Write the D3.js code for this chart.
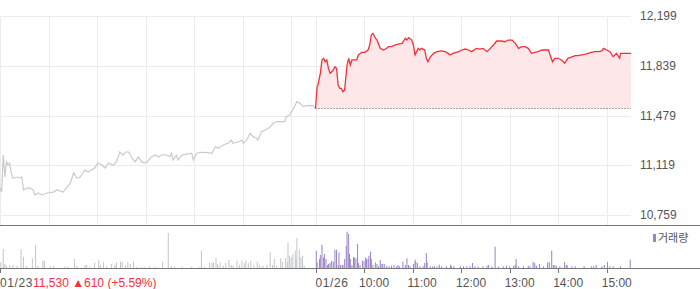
<!DOCTYPE html>
<html>
<head>
<meta charset="utf-8">
<script src="https://cdn.jsdelivr.net/npm/d3@7"></script>
<style>
  body { margin: 0; background: #fff; }
  svg { display: block; font-family: "Liberation Sans", Arial, sans-serif; }
</style>
</head>
<body>
<div class="chart"></div>
<script>
// minutes after 09:00 open, each session 390 minutes long
const dayLabels = ["01/23", "01/26"];
const prevClose = 11530;
const summaryText = ["11,530", "\u25B2610 (+5.59%)"];
const priceTicks = [10759, 11119, 11479, 11839, 12199];
const hourLabels = ["10:00", "11:00", "12:00", "13:00", "14:00", "15:00"];

const day1Min = [0, 2, 4, 6, 8, 10, 12, 14, 16, 21, 25, 27, 29, 33, 37, 41, 43, 47, 52, 58, 66, 70, 78, 82, 87, 91, 95, 99,
  105, 109, 113, 117, 121, 126, 130, 134, 140, 144, 148, 152, 155, 159, 163, 167, 171, 175, 179, 183, 187, 192, 196,
  200, 206, 210, 212, 214, 218, 220, 225, 231, 237, 239, 243, 249, 257, 262, 266, 270, 274, 278, 282, 286, 288, 295,
  299, 301, 305, 309, 313, 317, 319, 323, 328, 332, 338, 342, 348, 352, 354, 358, 363, 367, 371, 375, 379, 387, 390];
const day1Price = [10954, 10925, 11193, 11034, 11143, 11121, 11135, 11063, 11027, 11034, 11027, 11034, 10940, 10954,
  10954, 10940, 10904, 10918, 10904, 10918, 10925, 10940, 10925, 10954, 10991, 11063, 11027, 11034,
  11085, 11070, 11085, 11099, 11135, 11121, 11099, 11135, 11121, 11143, 11215, 11193, 11215, 11215, 11172, 11143,
  11179, 11143, 11135, 11150, 11179, 11193, 11179,
  11193, 11193, 11181, 11206, 11157, 11193, 11157, 11193, 11200, 11206, 11157, 11206, 11213, 11210, 11206, 11253,
  11242, 11258, 11271, 11278, 11302, 11278, 11289,
  11302, 11278, 11302, 11350, 11326, 11314, 11302, 11362, 11374, 11386, 11423, 11434, 11434, 11434, 11470, 11483,
  11531, 11579, 11567, 11543, 11550, 11550, 11530];

const day2Min = [0, 2, 3, 6, 8, 10, 12, 14, 16, 18, 20, 22, 24, 26, 28, 30, 32, 34, 36, 39, 41, 43, 45, 47, 51, 53, 57,
  61, 65, 67, 69, 71, 74, 76, 80, 84, 88, 90, 94, 98, 102, 107, 111, 113, 115, 119, 121, 123, 125, 127, 129, 131,
  135, 137, 139, 142, 146, 150, 156, 160, 164, 166, 170, 177, 181, 185, 189, 193, 199, 203, 207, 212, 216, 220, 224,
  230, 234, 238, 243, 247, 251, 255, 259, 263, 267, 271, 275, 280, 288, 290, 293, 296, 300, 304, 308, 312, 317, 321,
  325, 329, 333, 337, 341, 345, 350, 354, 356, 360, 364, 368, 372, 376, 377, 383, 390];
const day2Price = [11530, 11687, 11700, 11784, 11881, 11893, 11868, 11881, 11821, 11784, 11796, 11808, 11832, 11821,
  11700, 11676, 11676, 11651, 11664, 11844, 11893, 11844, 11881, 11881, 11881, 11917, 11936,
  11936, 11953, 11989, 12062, 12074, 12038, 12025, 11965, 11953, 11965, 11977, 11977, 11989, 11996, 12001, 12038,
  12025, 12042, 12025, 11989, 11917, 11941, 11965, 11953, 11965,
  11953, 11893, 11868, 11904, 11929, 11941, 11946, 11941, 11929, 11917, 11929, 11941, 11953, 11960, 11953, 11941,
  11965, 11960, 11965, 11941, 11965, 11989, 12018,
  12018, 12013, 12025, 12025, 12001, 11965, 11977, 11977, 11965, 11929, 11936, 11941, 11953, 11953, 11917, 11868,
  11893, 11893, 11881, 11857, 11893, 11904, 11912,
  11912, 11917, 11922, 11929, 11936, 11941, 11941, 11946, 11965, 11953, 11941, 11904, 11929, 11893, 11929, 11929,
  11929];

const day1VolMin = [1, 4, 6, 8, 12, 16, 21, 26, 29, 33, 40, 44, 47, 53, 55, 62, 66, 80, 84, 92, 95, 105, 107, 111, 117,
  122, 124, 128, 132, 138, 142, 144, 149, 151, 155, 158, 161, 165, 169, 175, 179, 185, 192, 201, 208, 212, 216, 225,
  237, 247, 249, 253, 259, 262, 264, 267, 269, 272, 276, 279, 283, 286, 288, 293, 296, 299, 302, 304, 307, 310, 314,
  318, 321, 325, 330, 334, 337, 339, 342, 347, 349, 353, 355, 356, 358, 360, 362, 365, 366, 367, 370, 372, 374, 376];
const day1Vol = [5700, 19000, 4000, 2300, 3000, 3000, 2300, 19000, 11300, 1700, 9700, 23300, 2300, 7300, 7300, 1700,
  2300, 1300, 1700, 9000, 2300, 3000, 3000, 1700, 5000,
  8300, 3000, 5700, 1700, 4000, 3000, 5700, 6300, 6300, 3000, 5700, 4000, 6300, 1000, 1000, 1000, 1700, 1000, 6300,
  35000, 1700, 1700, 1300,
  1300, 1000, 17300, 1000, 5000, 5000, 5700, 10300, 4000, 5700, 2300, 5000, 8300, 3000, 2300, 7300, 3000, 7300, 5000,
  7300, 5000, 7300, 3000,
  6300, 3000, 2300, 3000, 15700, 3000, 9000, 2300, 9700, 6300, 10000, 5700, 25700, 12300, 10700, 14000, 17300, 9000,
  30000, 18300, 10700, 12300, 2300];

const day2VolMin = [1, 2, 5, 6, 8, 10, 11, 13, 15, 16, 18, 20, 22, 24, 26, 28, 29, 31, 33, 34, 36, 38, 39, 41, 42, 43,
  45, 47, 48, 50, 52, 53, 55, 58, 60, 62, 63, 65, 66, 68, 69, 71, 74, 76, 78, 80, 81, 83, 85, 88, 91, 94, 97, 100,
  102, 104, 108, 111, 113, 115, 117, 121, 123, 124, 126, 129, 133, 135, 137, 138, 142, 145, 147, 150, 153, 156, 162,
  167, 168, 171, 179, 183, 187, 191, 194, 197, 201, 207, 212, 214, 218, 222, 226, 232, 236, 240, 245, 247, 248, 251,
  257, 263, 265, 269, 271, 273, 277, 282, 287, 289, 292, 294, 296, 298, 302, 308, 310, 311, 317, 321, 332, 341, 344,
  347, 354, 357, 361, 364, 368, 377, 389];
const day2Vol = [17300, 5700, 9000, 13000, 23300, 10700, 14000, 9000, 3000, 4000, 5000, 7300, 6300, 18300, 18300, 3000,
  15700, 3000, 3000, 3000, 9000, 22300, 36300, 34000, 14000, 9000,
  3000, 10700, 10700, 9700, 24000, 5000, 3000, 7300, 7300, 10700, 9000, 9000, 12300, 16300, 9000, 3000, 5700, 4000,
  1700, 8000, 4000, 4000, 4000, 2300, 1700, 2300, 3000, 1700,
  3000, 1700, 6300, 3000, 9700, 3000, 1700, 4000, 8300, 6300, 5000, 1700, 1700, 5000, 15000, 5700, 1700, 1700, 1700,
  1700, 3300, 1700, 1700,
  3300, 1700, 1700, 1700, 1700, 1700, 1700, 5000, 1700, 1700, 1700, 2300, 3000, 1700, 21300, 1700, 1700, 2300, 1700,
  2300, 3000, 9000, 1700,
  1700, 2300, 1700, 6300, 5000, 2300, 4000, 1700, 5700, 5700, 17300, 3000, 3000, 1700, 1700, 6300, 3000, 3000, 1700,
  1700, 1700, 1700, 1700,
  3000, 1700, 3000, 6300, 1700, 1700, 1700, 8300];

const dims = { width: 700, height: 289, plotW: 631 };

const svg = d3.select(".chart").append("svg")
  .attr("width", dims.width)
  .attr("height", dims.height);

const x = d3.scaleLinear().domain([0, 780]).range([0, dims.plotW]);
const y = d3.scaleLinear().domain([10759, 12199]).range([215, 16]);
const yVol = d3.scaleLinear().domain([0, 42000]).range([268, 226]);

const day1 = day1Min.map((m, i) => ({ t: m, v: day1Price[i] }));
const day2 = day2Min.map((m, i) => ({ t: m + 390, v: day2Price[i] }));

// grid
const gridX = d3.range(0, 781, 30).filter(m => m % 390 === 0 || (m % 390) % 60 === 0);
const grid = svg.append("g").attr("class", "grid");
grid.selectAll("line.h").data(priceTicks).enter().append("line")
  .attr("x1", 0).attr("x2", dims.plotW)
  .attr("y1", d => Math.round(y(d)) + 0.5).attr("y2", d => Math.round(y(d)) + 0.5)
  .attr("stroke", "#ebebeb");
grid.selectAll("line.v").data(gridX.filter(m => m < 780)).enter().append("line")
  .attr("x1", d => Math.round(x(d)) + 0.5).attr("x2", d => Math.round(x(d)) + 0.5)
  .attr("y1", 16).attr("y2", 225)
  .attr("stroke", "#ebebeb");

// y labels
svg.append("g").selectAll("text").data(priceTicks).enter().append("text")
  .attr("x", 640).attr("y", d => y(d) + 4)
  .attr("font-size", 12).attr("fill", "#555")
  .text(d => d3.format(",")(d));

// day 2 area + line
const area = d3.area().x(d => x(d.t)).y0(y(prevClose)).y1(d => y(d.v));
const line = d3.line().x(d => x(d.t)).y(d => y(d.v));

svg.append("path").datum(day2).attr("d", area).attr("fill", "#fde4e6").attr("opacity", 0.9);

svg.append("line")
  .attr("x1", x(390)).attr("x2", x(780))
  .attr("y1", Math.round(y(prevClose)) + 0.5).attr("y2", Math.round(y(prevClose)) + 0.5)
  .attr("stroke", "#555").attr("stroke-dasharray", "1,2");

svg.append("path").datum(day1).attr("d", line)
  .attr("fill", "none").attr("stroke", "#c9cace").attr("stroke-width", 1.2);
svg.append("path").datum(day2).attr("d", line)
  .attr("fill", "none").attr("stroke", "#f5303a").attr("stroke-width", 1.3);

// separator between panels
svg.append("line").attr("x1", 0).attr("x2", dims.width).attr("y1", 225.5).attr("y2", 225.5)
  .attr("stroke", "#777");

// volume bars
const vol1 = day1VolMin.map((m, i) => ({ t: m, v: day1Vol[i] }));
const vol2 = day2VolMin.map((m, i) => ({ t: m + 390, v: day2Vol[i] }));

svg.append("g").selectAll("rect").data(vol1).enter().append("rect")
  .attr("x", d => x(d.t) - 0.5).attr("width", 1)
  .attr("y", d => yVol(d.v)).attr("height", d => yVol(0) - yVol(d.v))
  .attr("fill", "#c3c5c9");
svg.append("g").selectAll("rect").data(vol2).enter().append("rect")
  .attr("x", d => x(d.t) - 0.5).attr("width", 1)
  .attr("y", d => yVol(d.v)).attr("height", d => yVol(0) - yVol(d.v))
  .attr("fill", "#9a83c6");

// volume baseline + ticks
svg.append("line").attr("x1", 0).attr("x2", dims.width).attr("y1", 268.5).attr("y2", 268.5)
  .attr("stroke", "#777");
const tickMin = [0, 390, 450, 510, 570, 630, 690, 750];
svg.append("g").selectAll("line").data(tickMin).enter().append("line")
  .attr("x1", d => Math.round(x(d)) + 0.5).attr("x2", d => Math.round(x(d)) + 0.5)
  .attr("y1", 268).attr("y2", 273)
  .attr("stroke", "#777");

// legend
svg.append("rect").attr("x", 653).attr("y", 234).attr("width", 3).attr("height", 8).attr("fill", "#9a83c6");
svg.append("text").attr("x", 658).attr("y", 242)
  .attr("font-size", 11).attr("fill", "#555")
  .attr("font-family", "'Noto Sans CJK KR', sans-serif")
  .text("거래량");

// x labels
const xl = svg.append("g").attr("font-size", 12);
xl.append("text").attr("x", 0).attr("y", 287).attr("fill", "#555")
  .attr("letter-spacing", 0.6).text(dayLabels[0]);
xl.append("text").attr("x", 33).attr("y", 287).attr("fill", "#f5303a")
  .text(summaryText[0] + " " + summaryText[1]);
xl.append("text").attr("x", x(390)).attr("y", 287).attr("fill", "#555")
  .attr("letter-spacing", 0.6).text(dayLabels[1]);
xl.selectAll("text.hour").data(hourLabels).enter().append("text")
  .attr("class", "hour")
  .attr("x", (d, i) => x(450 + i * 60) - 5).attr("y", 287)
  .attr("fill", "#555")
  .text(d => d);
</script>
</body>
</html>
